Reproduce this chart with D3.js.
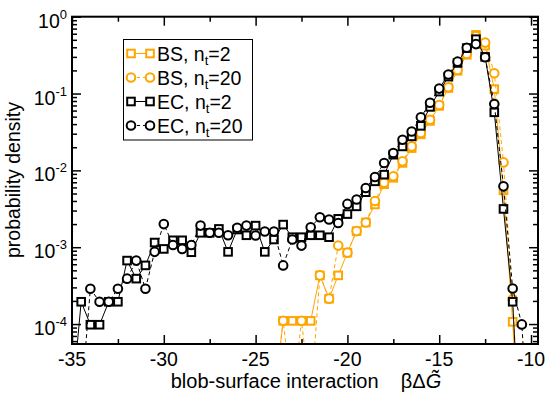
<!DOCTYPE html>
<html><head><meta charset="utf-8">
<script src="https://cdn.jsdelivr.net/npm/d3@7"></script>
<style>body{margin:0;background:#fff}svg{display:block}</style>
</head><body><svg id="c" width="548" height="394"></svg>
<script>
// ---- data ----
const ecN2X = [-35.0,-34.5,-34.0,-33.5,-33.0,-32.5,-32.0,-31.5,-31.0,-30.5,-30.0,-29.5,-29.0,-28.5,-28.0,-27.5,-27.0,-26.5,-26.0,-25.5,-25.0,-24.5,-24.0,-23.5,-23.0,-22.5,-22.0,-21.5,-21.0,-20.5,-20.0,-19.5,-19.0,-18.5,-18.0,-17.5,-17.0,-16.5,-16.0,-15.5,-15.0,-14.5,-14.0,-13.5,-13.0,-12.5,-12.0,-11.5,-11.0,-10.5];
const ecN2Y = [1e-5,1.95e-4,9.8e-5,9.8e-5,1.95e-4,1.95e-4,6.7e-4,3.9e-4,5.8e-4,1.15e-3,9.5e-4,1.23e-3,1.23e-3,8.6e-4,1.54e-3,1.54e-3,1.73e-3,8.7e-4,1.7e-3,1.43e-3,1.91e-3,8.7e-4,1.26e-3,1.97e-3,1.35e-3,1.35e-3,1.43e-3,1.43e-3,1.35e-3,2.34e-3,2.7e-3,3.4e-3,5.2e-3,7.2e-3,8.8e-3,1.6e-2,2.05e-2,2.77e-2,3.8e-2,6.7e-2,0.106,0.166,0.25,0.39,0.51,0.30,5.7e-2,3.15e-3,1.95e-4,1e-6];

const ecN20X = [-34.5,-34.0,-33.5,-33.0,-32.5,-32.0,-31.5,-31.0,-30.5,-30.0,-29.5,-29.0,-28.5,-28.0,-27.5,-27.0,-26.5,-26.0,-25.5,-25.0,-24.5,-24.0,-23.5,-23.0,-22.5,-22.0,-21.5,-21.0,-20.5,-20.0,-19.5,-19.0,-18.5,-18.0,-17.5,-17.0,-16.5,-16.0,-15.5,-15.0,-14.5,-14.0,-13.5,-13.0,-12.5,-12.0,-11.5,-11.0,-10.5,-10.0];
const ecN20Y = [1e-5,2.88e-4,1.95e-4,1.95e-4,2.88e-4,3.9e-4,6.7e-4,2.88e-4,8.7e-4,2.0e-3,1.07e-3,9.5e-4,1.07e-3,1.91e-3,1.54e-3,1.54e-3,1.43e-3,1.79e-3,1.91e-3,1.42e-3,1.6e-3,1.6e-3,5.8e-4,1.26e-3,1.05e-3,1.82e-3,2.45e-3,2.29e-3,2.07e-3,3.66e-3,4.17e-3,5.9e-3,8.2e-3,1.25e-2,1.68e-2,2.5e-2,3.2e-2,4.9e-2,7.6e-2,0.116,0.177,0.26,0.395,0.44,0.297,7.3e-2,6.2e-3,2.9e-4,9.9e-5,1e-6];

const bsN2X = [-24.0,-23.5,-23.0,-22.5,-22.0,-21.5,-21.0,-20.5,-20.0,-19.5,-19.0,-18.5,-18.0,-17.5,-17.0,-16.5,-16.0,-15.5,-15.0,-14.5,-14.0,-13.5,-13.0,-12.5,-12.0,-11.5,-11.0,-10.5];
const bsN2Y = [1e-5,1.1e-4,1.1e-4,1.1e-4,1.1e-4,4.3e-4,2.14e-4,4.3e-4,8.5e-4,1.62e-3,2.1e-3,3.6e-3,6.6e-3,8.0e-3,1.25e-2,1.95e-2,2.95e-2,4.4e-2,6.9e-2,0.118,0.198,0.32,0.58,0.42,0.114,5.5e-3,1.07e-4,1e-6];

const bsN20X = [-24.0,-23.5,-23.0,-22.5,-22.0,-21.5,-21.0,-20.5,-20.0,-19.5,-19.0,-18.5,-18.0,-17.5,-17.0,-16.5,-16.0,-15.5,-15.0,-14.5,-14.0,-13.5,-13.0,-12.5,-12.0,-11.5,-11.0,-10.5];
const bsN20Y = [1e-5,1.1e-4,1e-5,1.1e-4,1e-5,4.3e-4,2.14e-4,1.05e-3,8.5e-4,1.62e-3,2.1e-3,4.0e-3,6.9e-3,8.4e-3,1.31e-2,2.05e-2,3.06e-2,4.55e-2,7.1e-2,0.121,0.203,0.328,0.56,0.46,0.184,1.27e-2,2.1e-4,1e-6];

const xMajor = [-35,-30,-25,-20,-15,-10];
const xMinor = [-32.5,-27.5,-22.5,-17.5,-12.5];
const yMajorExp = [0,-1,-2,-3,-4];
const legendLabels = ["BS, n","BS, n","EC, n","EC, n"];
const legendSubs = ["t","t","t","t"];
const legendTails = ["=2","=20","=2","=20"];

// ---- chart ----
const svg = d3.select("#c");
const L=72, R=538, T=16.7, B=344;
const x = d3.scaleLinear().domain([-35,-9.62]).range([L,R]);
const y = d3.scaleLog().domain([5.5e-5,1]).range([B,T]);
const ORANGE = "#FFA500";
const FONT = "Liberation Sans, Arial, sans-serif";

svg.append("defs").append("clipPath").attr("id","clip")
  .append("rect").attr("x",L).attr("y",T).attr("width",R-L).attr("height",B-T);

const series = [
  {xs:bsN2X, ys:bsN2Y, color:ORANGE, sym:"square", dash:null},
  {xs:bsN20X, ys:bsN20Y, color:ORANGE, sym:"circle", dash:"4,3"},
  {xs:ecN2X, ys:ecN2Y, color:"#000", sym:"square", dash:null},
  {xs:ecN20X, ys:ecN20Y, color:"#000", sym:"circle", dash:"4,3"}
];

const plot = svg.append("g").attr("clip-path","url(#clip)");
const line = d3.line().x(d=>x(d[0])).y(d=>y(d[1]));
function drawSym(g, sym, cx, cy, color){
  if(sym==="square"){
    g.append("rect").attr("x",cx-3.8).attr("y",cy-3.8).attr("width",7.6).attr("height",7.6)
      .attr("fill","#fff").attr("stroke",color).attr("stroke-width",2);
  } else {
    g.append("circle").attr("cx",cx).attr("cy",cy).attr("r",4.3)
      .attr("fill","#fff").attr("stroke",color).attr("stroke-width",2);
  }
}
series.forEach(s=>{
  const pts = s.xs.map((v,i)=>[v,s.ys[i]]);
  plot.append("path").attr("d",line(pts)).attr("fill","none")
    .attr("stroke",s.color).attr("stroke-width",1)
    .attr("stroke-dasharray",s.dash);
  const g = plot.append("g");
  pts.forEach(p=>{ if(p[1]>=5.5e-5) drawSym(g,s.sym,x(p[0]),y(p[1]),s.color); });
});

// ---- axes ----
const yMinor=[];
yMajorExp.forEach(e=>{ for(let k=2;k<=9;k++){ const v=k*Math.pow(10,e-1); if(v>=5.5e-5 && v<1) yMinor.push(v);} });
const yMajor = yMajorExp.map(e=>Math.pow(10,e));

function styleAxis(g){ g.select(".domain").remove(); g.selectAll(".tick line").attr("stroke","#000").attr("stroke-width",1.5); g.selectAll("text").remove(); }
svg.append("g").attr("transform",`translate(0,${B})`).call(d3.axisBottom(x).tickValues(xMajor).tickSize(-9)).call(styleAxis);
svg.append("g").attr("transform",`translate(0,${B})`).call(d3.axisBottom(x).tickValues(xMinor).tickSize(-5)).call(styleAxis);
svg.append("g").attr("transform",`translate(0,${T})`).call(d3.axisTop(x).tickValues(xMajor).tickSize(-9)).call(styleAxis);
svg.append("g").attr("transform",`translate(0,${T})`).call(d3.axisTop(x).tickValues(xMinor).tickSize(-5)).call(styleAxis);
svg.append("g").attr("transform",`translate(${L},0)`).call(d3.axisLeft(y).tickValues(yMajor).tickSize(-9)).call(styleAxis);
svg.append("g").attr("transform",`translate(${L},0)`).call(d3.axisLeft(y).tickValues(yMinor).tickSize(-5)).call(styleAxis);
svg.append("g").attr("transform",`translate(${R},0)`).call(d3.axisRight(y).tickValues(yMajor).tickSize(-9)).call(styleAxis);
svg.append("g").attr("transform",`translate(${R},0)`).call(d3.axisRight(y).tickValues(yMinor).tickSize(-5)).call(styleAxis);

svg.append("rect").attr("x",L).attr("y",T).attr("width",R-L).attr("height",B-T)
  .attr("fill","none").attr("stroke","#000").attr("stroke-width",2);

// tick labels
xMajor.forEach(v=>{
  svg.append("text").attr("x",x(v)).attr("y",366).attr("text-anchor","middle")
    .attr("font-family",FONT).attr("font-size",19.5).text(v);
});
yMajorExp.forEach(e=>{
  const t = svg.append("text").attr("x",67).attr("y",y(Math.pow(10,e))+11).attr("text-anchor","end")
    .attr("font-family",FONT).attr("font-size",19.5);
  t.append("tspan").text("10");
  t.append("tspan").attr("dy",-9).attr("font-size",13).text(e);
});

// axis titles
const xt = svg.append("text").attr("x",306).attr("y",388).attr("text-anchor","middle")
  .attr("font-family",FONT).attr("font-size",20);
xt.append("tspan").text("blob-surface interaction\u00A0\u00A0\u00A0\u00A0\u03B2\u0394");
xt.append("tspan").attr("font-style","italic").text("G\u0303");
svg.append("text").attr("transform","translate(20,180) rotate(-90)").attr("text-anchor","middle")
  .attr("font-family",FONT).attr("font-size",19.5).text("probability density");

// legend
const lg = svg.append("g");
lg.append("rect").attr("x",123.5).attr("y",39.5).attr("width",129).attr("height",100.5)
  .attr("fill","#fff").attr("stroke","#000").attr("stroke-width",1);
series.forEach((s,i)=>{
  const cy = 53.5 + i*24;
  lg.append("line").attr("x1",131).attr("x2",150).attr("y1",cy).attr("y2",cy)
    .attr("stroke",s.color).attr("stroke-width",1).attr("stroke-dasharray",s.dash?"3,3":null);
  drawSym(lg,s.sym,131,cy,s.color);
  drawSym(lg,s.sym,150,cy,s.color);
  const t = lg.append("text").attr("x",157).attr("y",cy+7).attr("font-family",FONT).attr("font-size",19.5);
  t.append("tspan").text(legendLabels[i]);
  t.append("tspan").attr("dy",4).attr("font-size",13).text(legendSubs[i]);
  t.append("tspan").attr("dy",-4).text(legendTails[i]);
});
</script></body></html>
